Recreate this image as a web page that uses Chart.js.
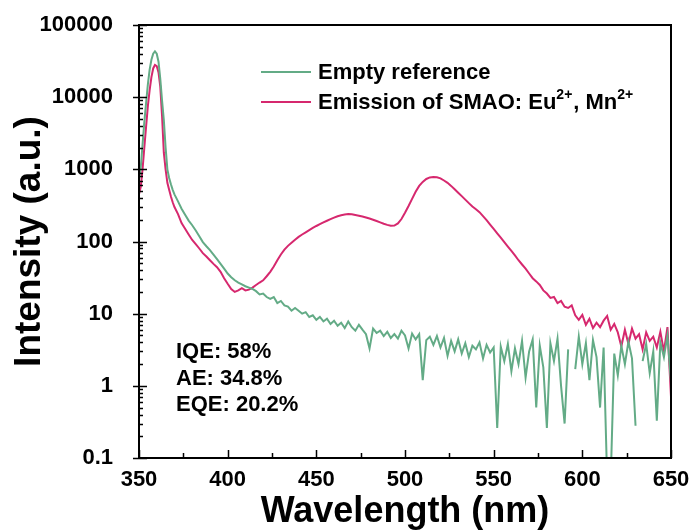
<!DOCTYPE html>
<html>
<head>
<meta charset="utf-8">
<title>SMAO emission spectrum</title>
<script src="https://cdn.jsdelivr.net/npm/chart.js@4/dist/chart.umd.min.js"></script>
<style>
  html, body { margin: 0; padding: 0; background: #fff; }
</style>
</head>
<body>
<canvas id="myChart" width="692" height="530"></canvas>
<script>
// wavelength grid (nm): 1 nm steps over the excitation peak, 2 nm after
const wavelengths = [
  350, 351, 352, 353, 354, 355, 356, 357, 358, 359, 360, 361, 362, 363, 364, 365, 366, 367, 368, 369, 370,
  372, 374, 376, 378, 380, 382, 384, 386, 388, 390, 392, 394, 396, 398,
  400, 402, 404, 406, 408, 410, 412, 414, 416, 418, 420, 422, 424, 426, 428, 430, 432, 434, 436, 438,
  440, 442, 444, 446, 448, 450, 452, 454, 456, 458, 460, 462, 464, 466, 468, 470, 472, 474, 476, 478,
  480, 482, 484, 486, 488, 490, 492, 494, 496, 498, 500, 502, 504, 506, 508, 510, 512, 514, 516, 518,
  520, 522, 524, 526, 528, 530, 532, 534, 536, 538, 540, 542, 544, 546, 548, 550, 552, 554, 556, 558,
  560, 562, 564, 566, 568, 570, 572, 574, 576, 578, 580, 582, 584, 586, 588, 590, 592, 594, 596, 598,
  600, 602, 604, 606, 608, 610, 612, 614, 616, 618, 620, 622, 624, 626, 628, 630, 632, 634, 636, 638,
  640, 642, 644, 646, 648, 650
];

// Empty reference (green)
const reference = [
  700, 1070, 2200, 4500, 8300, 15000, 24000, 33000, 40000, 43000, 40000, 31000, 18000, 9000, 4800, 2000, 1000, 760, 620, 520, 450,
  360, 285, 235, 195, 168, 142, 118, 98, 86, 76, 66, 57, 49, 42,
  36, 32, 29, 27, 25.5, 24, 23, 22, 20.5, 18.5, 19, 17, 16, 17, 14, 15, 13, 12.5, 11, 12,
  11, 10, 10.5, 9, 9.5, 8.2, 9, 7.8, 8.5, 7.2, 8, 6.8, 7.5, 6.3, 7.8, 6.5, 5.8, 7, 6, 5.2,
  3.3, 6.2, 5.4, 5.8, 4.9, 5.6, 4.6, 5.2, 4.5, 5.8, 5.0, 3.3, 5.3, 4.4, 5.2, 1.2, 4.3, 4.8, 3.7, 4.9,
  3.4, 4.6, 2.6, 4.2, 3.0, 4.4, 2.8, 3.9, 2.5, 3.6, 3.2, 4.0, 2.4, 3.7, 2.9, 3.4, 0.26, 3.5, 2.2, 3.8,
  1.6, 3.3, 2.0, 4.2, 1.3, 3.0, 4.4, 0.5, 3.6, 1.8, 0.26, 3.9, 2.2, 4.5, 1.0, 0.3, 3.2, null, 1.7, 4.8,
  2.0, 3.9, 1.2, 4.3, 2.5, 0.5, 3.4, 0.05, 0.05, 2.8, 1.4, 3.6, 2.0, 4.1, 2.4, 0.28, null, 2.2, 3.8, 1.5,
  3.0, 0.33, 4.0, 2.5, 5.0, 1.1
];

// Emission of SMAO: Eu2+, Mn2+ (pink)
const emission = [
  450, 570, 1000, 2000, 3900, 7500, 12500, 19000, 25000, 28000, 27000, 22000, 14000, 5500, 1700, 1000, 650, 520, 420, 350, 300,
  240, 180, 150, 125, 105, 92, 80, 69, 62, 55, 49, 44, 38, 31,
  26, 22, 20, 21, 22.5, 21, 21.5, 23, 25, 27, 29, 33, 38, 45, 55, 66, 77, 87, 96, 106,
  116, 125, 134, 144, 154, 164, 174, 184, 194, 204, 214, 224, 231, 237, 240, 238, 233, 228, 222, 215,
  208, 200, 192, 184, 176, 170, 165, 166, 178, 205, 250, 310, 390, 490, 590, 670, 735, 772, 785, 775,
  750, 700, 650, 590, 530, 475, 425, 380, 340, 305, 280, 255, 225, 198, 172, 150, 130, 113, 98, 85,
  74, 64, 55, 48, 42, 36, 31, 28, 25, 21, 19, 16.5, 17, 14, 15, 12.5, 12, 13, 9.5, 8.2,
  9.6, 7, 8.5, 6.3, 7.5, 6.5, 8, 9.3, 6, 7.2, 5.5, 3.5, 6, 3.8, 6.2, 4.5, 5.2, 3.2, 5.5, 4.2,
  4.8, 3.4, 5.6, 3.0, 6.5, 0.7
];

const xTicks = [350, 400, 450, 500, 550, 600, 650];
const yTicks = [0.1, 1, 10, 100, 1000, 10000, 100000];
const yTickLabels = ['0.1', '1', '10', '100', '1000', '10000', '100000'];

const seriesNames = ['Empty reference', 'Emission of SMAO: Eu2+, Mn2+'];
// legend text split into [text, isSuperscript] parts
const legendParts = [
  [['Empty reference', false]],
  [['Emission of SMAO: Eu', false], ['2+', true], [', Mn', false], ['2+', true]]
];
const efficiencies = ['IQE: 58%', 'AE: 34.8%', 'EQE: 20.2%'];

const FONT = '"Liberation Sans", Arial, sans-serif';
const GREEN = '#63ab86';
const PINK = '#d6286e';

function toPoints(ys) {
  return wavelengths.map((x, i) => ({ x: x, y: ys[i] }));
}

// frame, inside ticks, legend and efficiency notes
const decorations = {
  id: 'decorations',
  afterDraw(chart) {
    const ctx = chart.ctx;
    const a = chart.chartArea;
    const xs = chart.scales.x, ys = chart.scales.y;
    ctx.save();
    ctx.strokeStyle = '#000';
    ctx.lineWidth = 2;
    ctx.strokeRect(a.left, a.top, a.right - a.left, a.bottom - a.top);

    ctx.lineWidth = 1.5;
    ctx.beginPath();
    for (let v = 350; v <= 650; v += 25) {
      const px = Math.round(xs.getPixelForValue(v)) + 0.5;
      const len = v % 50 === 0 ? 8 : 5;
      ctx.moveTo(px, a.bottom);
      ctx.lineTo(px, a.bottom - len);
    }
    yTicks.forEach(dec => {
      for (let k = 1; k <= 9; k++) {
        const v = dec * k;
        if (v > 100000) break;
        const py = Math.round(ys.getPixelForValue(v)) + 0.5;
        if (k === 1) {
          ctx.moveTo(a.left - 6, py);
          ctx.lineTo(a.left + 8, py);
        } else {
          ctx.moveTo(a.left, py);
          ctx.lineTo(a.left + 4, py);
        }
      }
    });
    ctx.stroke();

    // legend
    const rowsY = [72, 102];
    const colors = [GREEN, PINK];
    legendParts.forEach((parts, i) => {
      ctx.strokeStyle = colors[i];
      ctx.lineWidth = 2;
      ctx.beginPath();
      ctx.moveTo(261, rowsY[i]);
      ctx.lineTo(311, rowsY[i]);
      ctx.stroke();
      let x = 318;
      ctx.fillStyle = '#000';
      ctx.textAlign = 'left';
      ctx.textBaseline = 'middle';
      parts.forEach(([txt, sup]) => {
        ctx.font = sup ? 'bold 14px ' + FONT : 'bold 22px ' + FONT;
        ctx.fillText(txt, x, sup ? rowsY[i] - 7 : rowsY[i] + 1);
        x += ctx.measureText(txt).width + (sup ? 1 : 0);
      });
    });

    // efficiency notes
    ctx.font = 'bold 22px ' + FONT;
    ctx.fillStyle = '#000';
    efficiencies.forEach((t, i) => {
      ctx.fillText(t, 176, 352 + i * 26.5);
    });
    ctx.restore();
  }
};

const ctx = document.getElementById('myChart').getContext('2d');
const myChart = new Chart(ctx, {
  type: 'line',
  data: {
    datasets: [
      {
        label: seriesNames[0],
        data: toPoints(reference),
        borderColor: GREEN,
        borderWidth: 2,
        pointRadius: 0,
        spanGaps: false
      },
      {
        label: seriesNames[1],
        data: toPoints(emission),
        borderColor: PINK,
        borderWidth: 2,
        pointRadius: 0,
        spanGaps: false
      }
    ]
  },
  options: {
    responsive: false,
    animation: false,
    layout: { padding: { left: 8, top: 25, right: 21, bottom: 0 } },
    plugins: {
      legend: { display: false },
      tooltip: { enabled: false }
    },
    scales: {
      x: {
        type: 'linear',
        min: 350,
        max: 650,
        grid: { display: false },
        border: { display: false },
        afterBuildTicks: s => { s.ticks = xTicks.map(v => ({ value: v })); },
        afterFit: s => { s.height = 72; s.paddingRight = 0; s.paddingLeft = 0; },
        ticks: {
          color: '#000',
          padding: 1,
          maxRotation: 0,
          font: { family: FONT, size: 22, weight: 'bold' }
        },
        title: {
          display: true,
          text: 'Wavelength (nm)',
          color: '#000',
          padding: 0,
          font: { family: FONT, size: 36, weight: 'bold', lineHeight: 1.0 }
        }
      },
      y: {
        type: 'logarithmic',
        min: 0.1,
        max: 100000,
        grid: { display: false },
        border: { display: false },
        afterBuildTicks: s => { s.ticks = yTicks.map(v => ({ value: v })); },
        afterFit: s => { s.width = 131; s.paddingTop = 0; s.paddingBottom = 0; },
        ticks: {
          color: '#000',
          padding: 18,
          autoSkip: false,
          callback: (v) => {
            const i = yTicks.indexOf(v);
            return i >= 0 ? yTickLabels[i] : '';
          },
          font: { family: FONT, size: 22, weight: 'bold' }
        },
        title: {
          display: true,
          text: 'Intensity (a.u.)',
          color: '#000',
          padding: 0,
          font: { family: FONT, size: 37, weight: 'bold' }
        }
      }
    }
  },
  plugins: [decorations]
});
</script>
</body>
</html>
